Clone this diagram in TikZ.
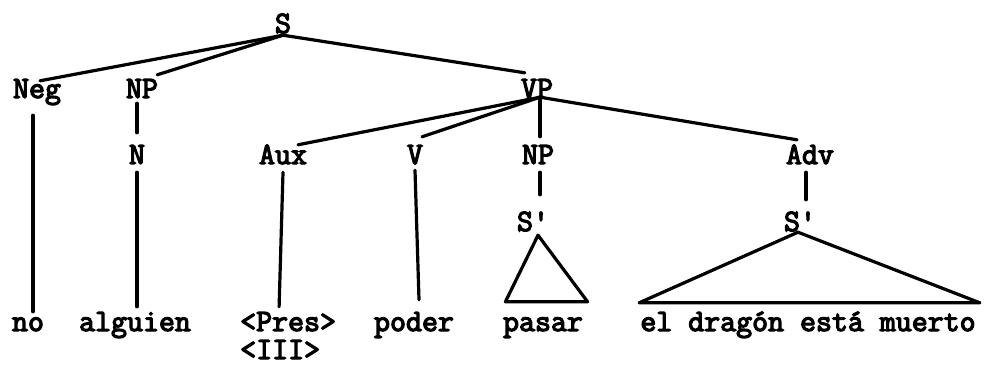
\documentclass[tikz,border=0pt]{standalone}
\usepackage{fontspec}
\setmonofont[AutoFakeBold=4]{Latin Modern Mono}
\usetikzlibrary{calc}
\begin{document}
\begin{tikzpicture}[x=1pt,y=-1pt,
  lbl/.style={anchor=base,inner sep=0pt,text height=16pt,text depth=5pt,
    font=\ttfamily\bfseries\fontsize{31}{34}\selectfont},
  edge/.style={line width=3.2pt,line cap=round,line join=round}]
\useasboundingbox (0,0) rectangle (986,365);
% nodes
\node[lbl] (S) at (283,33) {S};
\node[lbl] (Neg) at (37,98) {Neg};
\node[lbl] (NPa) at (142,98) {NP};
\node[lbl] (VP) at (537,98) {VP};
\node[lbl] (N) at (137,164) {N};
\node[lbl] (Aux) at (283,164) {Aux};
\node[lbl] (V) at (415,164) {V};
\node[lbl] (NPb) at (538,164) {NP};
\node[lbl] (Adv) at (810,164) {Adv};
\node[lbl] (Sa) at (533,231) {S'};
\node[lbl] (Sb) at (800,231) {S'};
\node[lbl] (no) at (28,331) {no};
\node[lbl] (alguien) at (135,331) {alguien};
\node[lbl,anchor=base west] (Pres) at (240,331) {<Pres>};
\node[lbl,anchor=base west] (III) at (240,359) {<III>};
\node[lbl] (poder) at (414,331) {poder};
\node[lbl] (pasar) at (543,331) {pasar};
\node[lbl] (dragon) at (808,331) {el dragón está muerto};
% connectors
\draw[edge] ($(S.south)+(0,-3)$) -- ($(Neg.north)+(3,-1)$);
\draw[edge] ($(S.south)+(0,-3)$) -- ($(NPa.north east)+(-1,-7)$);
\draw[edge] ($(S.south)+(0,-3)$) -- ($(VP.north west)+(4,-9)$);
\draw[edge] ($(VP.south)+(3,-6)$) -- ($(Aux.north)+(15,-3)$);
\draw[edge] ($(VP.south)+(3,-6)$) -- ($(V.north)+(7,-11)$);
\draw[edge] ($(VP.south)+(3,-6)$) -- ($(NPb.north)+(2,-11)$);
\draw[edge] ($(VP.south)+(3,-6)$) -- ($(Adv.north)+(-13,-8)$);
\draw[edge] ($(NPa.south)+(-5,0)$) -- ($(N.north)+(0,-15)$);
\draw[edge] ($(Neg.south)+(-4,12)$) -- ($(no.north)+(5,-3)$);
\draw[edge] ($(N.south)+(0,3)$) -- ($(alguien.north)+(2,-8)$);
\draw[edge] ($(Aux.south)+(0,3)$) -- ($(Pres.north)+(-9,-8)$);
\draw[edge] ($(V.south)+(0,1)$) -- ($(poder.north)+(5,-15)$);
\draw[edge] ($(NPb.south)+(2,3)$) -- ($(Sa.north)+(7,-20)$);
\draw[edge] ($(Adv.south)+(-4,3)$) -- ($(Sb.north)+(6,-15)$);
\draw[edge] ($(Sa.south)+(5,-1)$) -- ($(pasar.north west)+(2.5,-13)$)
  -- ($(pasar.north east)+(4.5,-13)$) -- cycle;
\draw[edge] ($(Sb.south)+(-2,-4)$) -- ($(dragon.north west)+(-1,-12)$)
  -- ($(dragon.north east)+(4,-12)$) -- cycle;
\end{tikzpicture}
\end{document}
